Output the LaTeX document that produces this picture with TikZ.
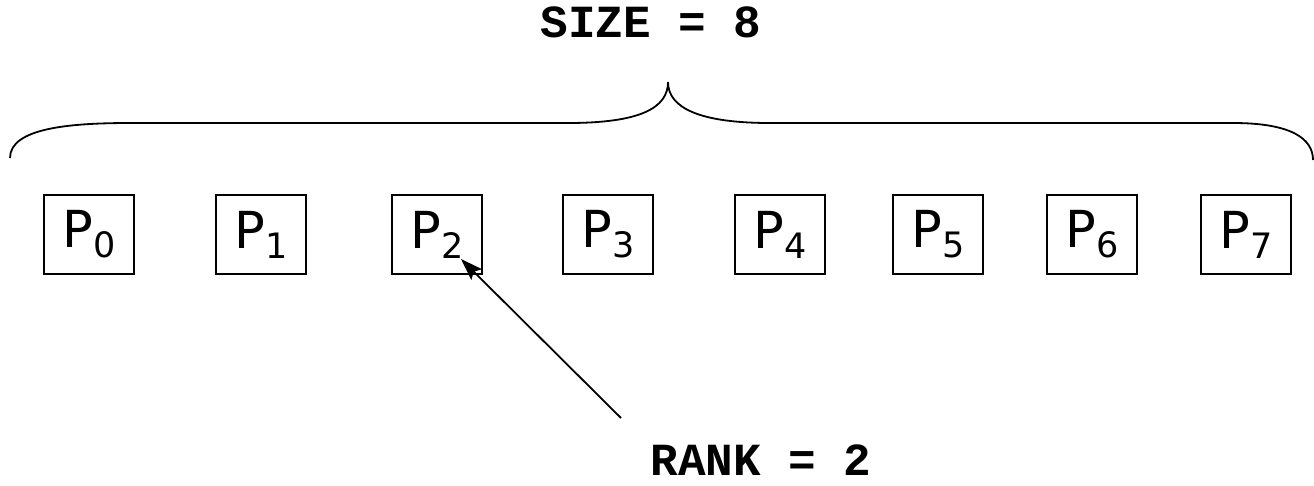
\documentclass[tikz,border=0pt]{standalone}
\usepackage{fontspec}
\setmainfont{DejaVu Sans}
\newfontfamily\monob{Liberation Mono}
\usetikzlibrary{arrows.meta}
\begin{document}
\begin{tikzpicture}[x=1pt,y=-1pt,
  procbox/.style={draw,line width=1.8pt,minimum width=90pt,minimum height=79pt,inner sep=0pt,
     font=\fontsize{51}{53}\selectfont},
  title/.style={font=\monob\bfseries\fontsize{46}{48}\selectfont,inner sep=0pt},
  conn/.style={line width=1.8pt}]
\useasboundingbox (0,0) rectangle (1314,485);
\foreach \i/\x in {0/89,1/261,2/437,3/608,4/780,5/938,6/1092,7/1246}{
  \node[procbox] (p\i) at (\x,234.5) {\raisebox{-4pt}{P}\raisebox{-14pt}{\fontsize{35}{37}\selectfont\i}};
}
\node[title] (size) at (651,22) {SIZE = 8};
\node[title] (rank) at (761,460) {RANK = 2};
\coordinate (peak) at (668,82);
\coordinate (lend) at (10,158);
\coordinate (rend) at (1313,160);
\draw[conn] (lend) .. controls (10,128) and (70,123) .. (130,123) -- (568,123)
   .. controls (640,123) and (668,108) .. (peak)
   .. controls (668,108) and (700,123) .. (770,123) -- (1233,123)
   .. controls (1290,123) and (1313,138) .. (rend);
\coordinate (tip) at (461,259);
\coordinate (tail) at (621,418);
\draw[conn,-{Stealth[length=22pt,width=15pt,inset=4pt]}] (tail) -- (tip);
\end{tikzpicture}
\end{document}
